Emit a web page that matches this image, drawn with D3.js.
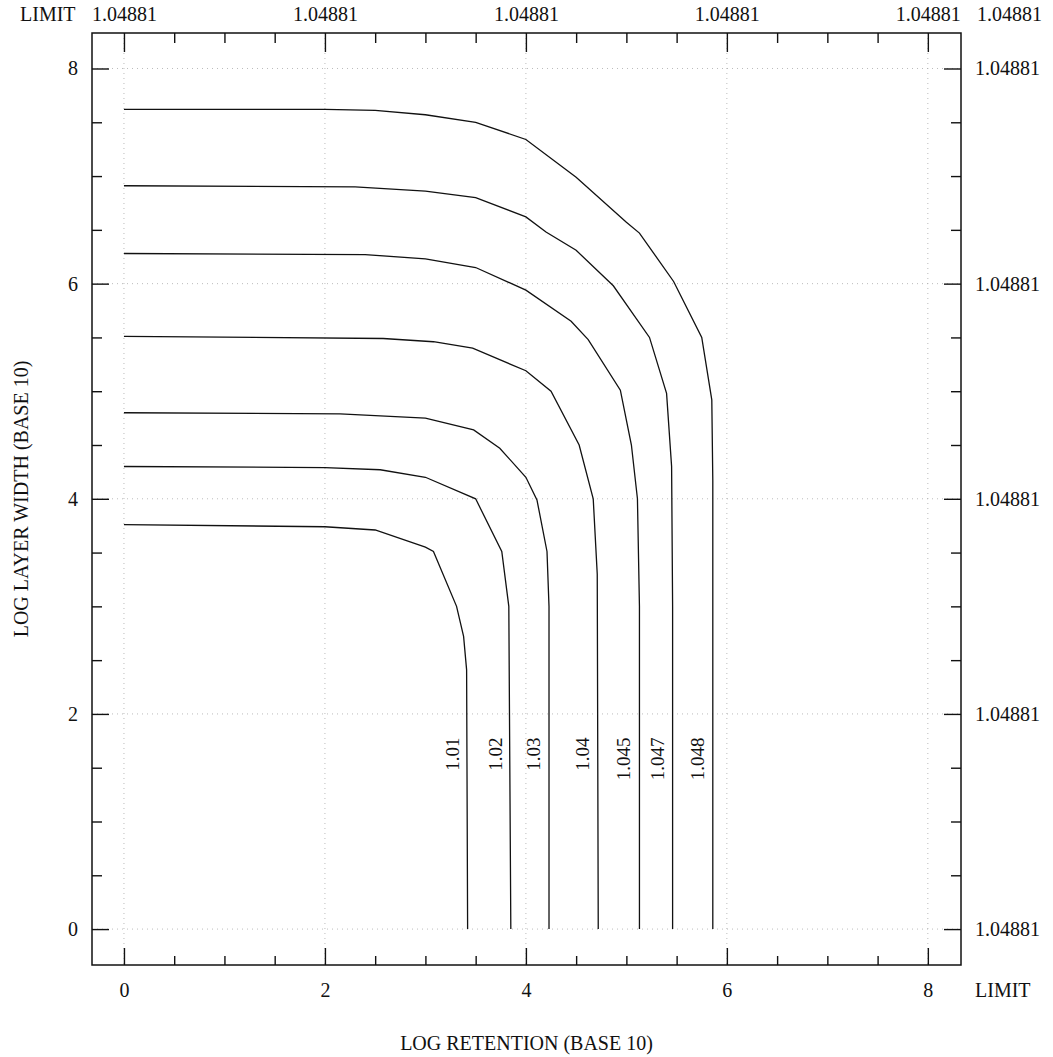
<!DOCTYPE html>
<html>
<head>
<meta charset="utf-8">
<script src="https://d3js.org/d3.v7.min.js"></script>
<style>
  html, body { margin: 0; padding: 0; background: #fff; }
  svg { display: block; }
  .tick line { stroke: #111; }
</style>
<title>Retention contours</title>
</head>
<body>
<script>
// contour levels, left to right along the bottom
var levels = ["1.01", "1.02", "1.03", "1.04", "1.045", "1.047", "1.048"];

// contour vertices [log retention, log layer width]
var c1010 = [[0, 3.76], [2.0, 3.74], [2.5, 3.71], [3.0, 3.55], [3.08, 3.51], [3.31, 3.0], [3.38, 2.72], [3.41, 2.41], [3.42, 0]];
var c1020 = [[0, 4.30], [2.0, 4.29], [2.55, 4.27], [3.0, 4.20], [3.5, 4.0], [3.76, 3.51], [3.83, 3.0], [3.85, 0]];
var c1030 = [[0, 4.80], [2.15, 4.79], [3.0, 4.75], [3.48, 4.64], [3.74, 4.47], [4.0, 4.20], [4.11, 3.99], [4.21, 3.51], [4.23, 3.0], [4.23, 0]];
var c1040 = [[0, 5.51], [2.58, 5.49], [3.08, 5.46], [3.47, 5.40], [4.0, 5.19], [4.25, 5.0], [4.53, 4.5], [4.67, 4.0], [4.71, 3.3], [4.72, 0]];
var c1045 = [[0, 6.28], [2.4, 6.27], [3.0, 6.23], [3.5, 6.15], [4.0, 5.94], [4.45, 5.65], [4.62, 5.48], [4.94, 5.01], [5.05, 4.5], [5.11, 4.0], [5.13, 3.0], [5.13, 0]];
var c1047 = [[0, 6.91], [2.3, 6.90], [3.0, 6.86], [3.5, 6.80], [4.0, 6.62], [4.2, 6.48], [4.5, 6.31], [4.87, 5.98], [5.23, 5.50], [5.40, 4.98], [5.45, 4.3], [5.46, 3.0], [5.46, 0]];
var c1048 = [[0, 7.62], [2.0, 7.62], [2.5, 7.61], [3.0, 7.57], [3.5, 7.50], [4.0, 7.34], [4.5, 6.99], [5.0, 6.57], [5.13, 6.47], [5.47, 6.02], [5.75, 5.50], [5.85, 4.92], [5.86, 4.17], [5.86, 0]];
var contours = [c1010, c1020, c1030, c1040, c1045, c1047, c1048];

var majorTicks = [0, 2, 4, 6, 8];
var minorTicks = [0.5, 1, 1.5, 2.5, 3, 3.5, 4.5, 5, 5.5, 6.5, 7, 7.5];
var limitLabel = "1.04881";
var labelY = 1.78;

var ww = 1053, hh = 1057;
var margin = {top: 33, right: 92, bottom: 92, left: 92};
var width = ww - margin.left - margin.right,
    height = hh - margin.top - margin.bottom;
var font = "'Liberation Serif', 'Times New Roman', serif";
var fs = "20px";

var svg = d3.select("body").append("svg").attr("width", ww).attr("height", hh);
var g = svg.append("g").attr("transform", "translate(" + margin.left + "," + margin.top + ")");

var x = d3.scaleLinear().domain([-0.318, 8.33]).range([0, width]);
var y = d3.scaleLinear().domain([-0.334, 8.33]).range([height, 0]);

// dotted grid at the major ticks
g.selectAll(".gx").data(majorTicks).enter().append("line")
  .attr("x1", function(d) { return x(d); }).attr("x2", function(d) { return x(d); })
  .attr("y1", 0).attr("y2", height)
  .style("stroke", "#aaa").style("stroke-width", 0.8).style("stroke-dasharray", "1,4");
g.selectAll(".gy").data(majorTicks).enter().append("line")
  .attr("y1", function(d) { return y(d); }).attr("y2", function(d) { return y(d); })
  .attr("x1", 0).attr("x2", width)
  .style("stroke", "#aaa").style("stroke-width", 0.8).style("stroke-dasharray", "1,4");

function tidy(sel) {
  sel.select(".domain").remove();
  sel.selectAll("text").style("font-family", font).style("font-size", fs).style("fill", "#111");
}

// bottom
g.append("g").attr("transform", "translate(0," + height + ")")
  .call(d3.axisBottom(x).tickValues(majorTicks).tickSize(-17).tickPadding(18).tickFormat(d3.format("d")))
  .call(tidy);
g.append("g").attr("transform", "translate(0," + height + ")")
  .call(d3.axisBottom(x).tickValues(minorTicks).tickSize(-9).tickFormat(""))
  .call(tidy);
// top
g.append("g")
  .call(d3.axisTop(x).tickValues(majorTicks).tickSize(-19).tickPadding(12).tickFormat(function() { return limitLabel; }))
  .call(tidy);
g.append("g")
  .call(d3.axisTop(x).tickValues(minorTicks).tickSize(-10).tickFormat(""))
  .call(tidy);
// left
g.append("g")
  .call(d3.axisLeft(y).tickValues(majorTicks).tickSize(-17).tickPadding(14).tickFormat(d3.format("d")))
  .call(tidy);
g.append("g")
  .call(d3.axisLeft(y).tickValues(minorTicks).tickSize(-10).tickFormat(""))
  .call(tidy);
// right
g.append("g").attr("transform", "translate(" + width + ",0)")
  .call(d3.axisRight(y).tickValues(majorTicks).tickSize(-17).tickPadding(14).tickFormat(function() { return limitLabel; }))
  .call(tidy);
g.append("g").attr("transform", "translate(" + width + ",0)")
  .call(d3.axisRight(y).tickValues(minorTicks).tickSize(-10).tickFormat(""))
  .call(tidy);

g.selectAll(".tick line").style("stroke-width", 1.4);

// frame
g.append("rect").attr("width", width).attr("height", height)
  .style("fill", "none").style("stroke", "#111").style("stroke-width", 1.5);

// contours
var line = d3.line().x(function(d) { return x(d[0]); }).y(function(d) { return y(d[1]); });
g.selectAll(".contour").data(contours).enter().append("path")
  .attr("d", line)
  .style("fill", "none").style("stroke", "#111").style("stroke-width", 1.3);

// contour labels beside the vertical parts
g.selectAll(".clabel").data(contours).enter().append("text")
  .attr("transform", function(d) {
    return "translate(" + (x(d[d.length - 1][0]) - 9) + "," + y(labelY) + ") rotate(-90)";
  })
  .attr("text-anchor", "end")
  .style("font-family", font).style("font-size", "19px").style("fill", "#111")
  .text(function(d, i) { return levels[i]; });

// corner labels
var corner = g.append("g").style("font-family", font).style("font-size", fs).style("fill", "#111");
corner.append("text").attr("x", -72).attr("y", -12).text("LIMIT");
corner.append("text").attr("x", width + 16).attr("y", -12).text(limitLabel);
corner.append("text").attr("x", width + 14).attr("y", height + 32).text("LIMIT");

// axis titles
corner.append("text").attr("x", width / 2).attr("y", height + 85)
  .attr("text-anchor", "middle").text("LOG RETENTION (BASE 10)");
corner.append("text").attr("transform", "translate(-64," + (height / 2) + ") rotate(-90)")
  .attr("text-anchor", "middle").text("LOG LAYER WIDTH (BASE 10)");
</script>
</body>
</html>
